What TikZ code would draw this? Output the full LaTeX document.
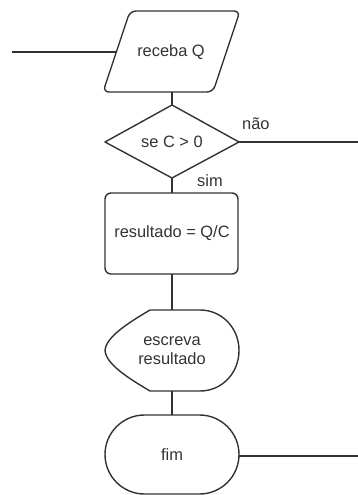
\documentclass[tikz,border=0pt]{standalone}
\usepackage{fontspec}
\setmainfont{Liberation Sans}
\begin{document}
\begin{tikzpicture}[x=1pt,y=-1pt,
  shapeline/.style={draw=black!80,line width=1.4pt,fill=white,line join=round},
  conn/.style={draw=black!80,line width=1.4pt},
  lbl/.style={font=\fontsize{16.4}{19}\selectfont,text=black!80,inner sep=0pt,align=center}]
\useasboundingbox (0,0) rectangle (358,495);
% input parallelogram
\path[shapeline,rounded corners=6pt] (130,11) -- (240,11) -- (213,92) -- (103,92) -- cycle;
\node[lbl] (receba) at (171,52) {receba Q};
\coordinate (inL) at (12,52);
\coordinate (pL) at (117,52);
\coordinate (pB) at (172,92);
% decision diamond
\path[shapeline] (172,105) -- (239,142) -- (172,178) -- (105,142) -- cycle;
\node[lbl] (se) at (172,142) {se C > 0};
\coordinate (dT) at (172,105);
\coordinate (dR) at (239,142);
\coordinate (dB) at (172,178);
\coordinate (outR) at (358,142);
\node[lbl,anchor=west] (nao) at (242,124) {não};
\node[lbl,anchor=west] (sim) at (197,181) {sim};
% process
\path[shapeline,rounded corners=6pt] (105,193) rectangle (238,274);
\node[lbl] (res) at (172,233) {resultado = Q/C};
\coordinate (rT) at (172,193);
\coordinate (rB) at (172,274);
% display
\path[shapeline] (150,310) -- (200,310) .. controls (222,310) and (239,328) .. (239,350.5)
  .. controls (239,373) and (222,391) .. (200,391) -- (150,391)
  .. controls (128,378) and (106,364) .. (105,350.5)
  .. controls (106,337) and (128,323) .. (150,310);
\node[lbl] (esc) at (172,350.5) {escreva\\resultado};
\coordinate (eT) at (172,310);
\coordinate (eB) at (172,391);
% terminal
\path[shapeline] (144.5,415) -- (199.5,415)
  .. controls (221.3,415) and (239,432.7) .. (239,454.5)
  .. controls (239,476.3) and (221.3,494) .. (199.5,494) -- (144.5,494)
  .. controls (122.7,494) and (105,476.3) .. (105,454.5)
  .. controls (105,432.7) and (122.7,415) .. (144.5,415);
\node[lbl] (fim) at (172,455) {fim};
\coordinate (fT) at (172,415);
\coordinate (fR) at (239,456);
\coordinate (fout) at (358,456);
% connectors
\draw[conn] (inL) -- (pL);
\draw[conn] (pB) -- (dT);
\draw[conn] (dR) -- (outR);
\draw[conn] (dB) -- (rT);
\draw[conn] (rB) -- (eT);
\draw[conn] (eB) -- (fT);
\draw[conn] (fR) -- (fout);
\end{tikzpicture}
\end{document}
